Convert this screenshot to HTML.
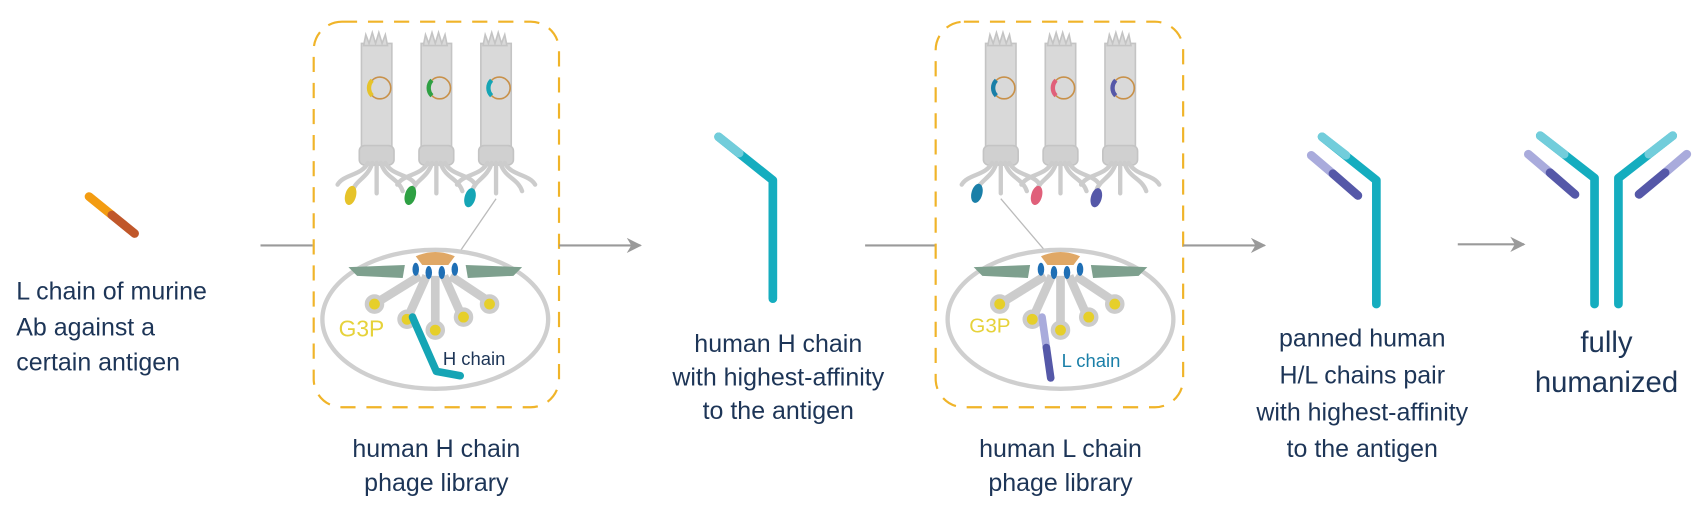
<!DOCTYPE html>
<html><head><meta charset="utf-8"><style>
html,body{margin:0;padding:0;background:#fff;}
svg{display:block;}
text{font-family:"Liberation Sans",Arial,sans-serif;fill:#1d3557;}
</style></head><body>
<svg width="1702" height="518" viewBox="0 0 1568 477" preserveAspectRatio="none" xmlns="http://www.w3.org/2000/svg">
<defs>
<marker id="ah" viewBox="0 0 10 10" refX="9" refY="5" markerWidth="16" markerHeight="14" orient="auto" markerUnits="userSpaceOnUse" >
<path d="M0,0 L10,5 L0,10 L3,5 z" fill="#9a9a9a"/></marker>
<g id="phage">
 <rect x="-14" y="40" width="28" height="98" fill="#d9d9d9" stroke="#c4c4c4" stroke-width="1.5"/>
 <path d="M-12,42 l2,-10 l3,8 l3,-10 l3,10 l3,-10 l3,10 l3,-8 l2,10z" fill="#d9d9d9" stroke="#c4c4c4" stroke-width="1.5"/>
 <rect x="-16" y="134" width="32" height="18" rx="5" fill="#d0d0d0" stroke="#c4c4c4" stroke-width="1.5"/>
 <circle cx="3" cy="81" r="10" fill="none" stroke="#c8914a" stroke-width="1.5"/>
 <g stroke="#cccccc" stroke-width="4" fill="none" stroke-linecap="round">
  <path d="M-8,150 C-14,162 -30,160 -36,170"/>
  <path d="M-4,150 C-8,164 -20,166 -22,176"/>
  <path d="M0,150 L0,178"/>
  <path d="M4,150 C8,164 20,164 24,176"/>
  <path d="M8,150 C14,162 30,160 36,170"/>
 </g>
</g>
<g id="detail">
 <ellipse cx="0" cy="0" rx="104" ry="64" fill="#fff" stroke="#cfcfcf" stroke-width="4"/>
 <path d="M-18,-58 Q0,-66 18,-58 L12,-50 L-12,-50z" fill="#e0a866"/>
 <path d="M-80,-48 L-28,-50 L-30,-38 L-72,-40z" fill="#7ea08e"/>
 <path d="M80,-48 L28,-50 L30,-38 L72,-40z" fill="#7ea08e"/>
 <g stroke="#cccccc" stroke-width="8" fill="none">
  <line x1="-14" y1="-40" x2="-56" y2="-14"/><line x1="-8" y1="-40" x2="-26" y2="0"/>
  <line x1="0" y1="-40" x2="0" y2="8"/><line x1="8" y1="-40" x2="24" y2="-4"/>
  <line x1="14" y1="-40" x2="50" y2="-16"/>
 </g>
 <g fill="#e6cf2a" stroke="#cccccc" stroke-width="4">
  <circle cx="-56" cy="-14" r="7"/><circle cx="-26" cy="0" r="7"/><circle cx="0" cy="10" r="7"/>
  <circle cx="26" cy="-2" r="7"/><circle cx="50" cy="-14" r="7"/>
 </g>
 <g fill="#1f6fb5">
  <ellipse cx="-18" cy="-46" rx="3" ry="6"/><ellipse cx="-6" cy="-43" rx="3" ry="6"/>
  <ellipse cx="6" cy="-43" rx="3" ry="6"/><ellipse cx="18" cy="-46" rx="3" ry="6"/>
 </g>
</g>
</defs>

<!-- murine L chain -->
<line x1="82" y1="181" x2="103" y2="198" stroke="#f39c12" stroke-width="8" stroke-linecap="round"/>
<line x1="103" y1="198" x2="124" y2="215" stroke="#c0572a" stroke-width="8" stroke-linecap="round"/>
<text x="15" y="276" font-size="23">L chain of murine</text>
<text x="15" y="309" font-size="23">Ab against a</text>
<text x="15" y="341" font-size="23">certain antigen</text>

<line x1="240" y1="226" x2="288" y2="226" stroke="#9a9a9a" stroke-width="2"/>
<rect x="289" y="20" width="226" height="355" rx="26" fill="none" stroke="#f0b429" stroke-width="2" stroke-dasharray="14,10"/>
<use href="#phage" x="347" y="0"/>
<use href="#phage" x="402" y="0"/>
<use href="#phage" x="457" y="0"/>
<path d="M342.9,73.9 A10,10 0 0 0 342.9,88.1" fill="none" stroke="#e6c32a" stroke-width="4"/>
<path d="M397.9,73.9 A10,10 0 0 0 397.9,88.1" fill="none" stroke="#2ea043" stroke-width="4"/>
<path d="M452.9,73.9 A10,10 0 0 0 452.9,88.1" fill="none" stroke="#15a5b5" stroke-width="4"/>
<ellipse cx="323" cy="180" rx="5" ry="9" fill="#e6c32a" transform="rotate(15 323 180)"/>
<ellipse cx="378" cy="180" rx="5" ry="9" fill="#2ea043" transform="rotate(15 378 180)"/>
<ellipse cx="433" cy="182" rx="5" ry="9" fill="#15a5b5" transform="rotate(15 433 182)"/>
<line x1="457" y1="183" x2="420" y2="237" stroke="#bbbbbb" stroke-width="1.2"/>
<use href="#detail" x="401" y="294"/>
<text x="312" y="310" font-size="21" style="fill:#e6d23a">G3P</text>
<polyline points="380,292 402,342 424,346" fill="none" stroke="#15a5b5" stroke-width="7" stroke-linecap="round" stroke-linejoin="round"/>
<text x="408" y="336" font-size="17">H chain</text>
<text x="402" y="421" font-size="23" text-anchor="middle">human H chain</text>
<text x="402" y="452" font-size="23" text-anchor="middle">phage library</text>

<line x1="515" y1="226" x2="590" y2="226" stroke="#9a9a9a" stroke-width="2" marker-end="url(#ah)"/>

<!-- H chain -->
<polyline points="662,126 712,166 712,275" fill="none" stroke="#15adbf" stroke-width="8" stroke-linecap="round" stroke-linejoin="round"/>
<line x1="662" y1="126" x2="681" y2="141" stroke="#72cddb" stroke-width="8" stroke-linecap="round"/>
<text x="717" y="324" font-size="23" text-anchor="middle">human H chain</text>
<text x="717" y="355" font-size="23" text-anchor="middle">with highest-affinity</text>
<text x="717" y="386" font-size="23" text-anchor="middle">to the antigen</text>

<line x1="797" y1="226" x2="862" y2="226" stroke="#9a9a9a" stroke-width="2"/>
<rect x="862" y="20" width="228" height="355" rx="26" fill="none" stroke="#f0b429" stroke-width="2" stroke-dasharray="14,10"/>
<use href="#phage" x="922" y="0"/>
<use href="#phage" x="977" y="0"/>
<use href="#phage" x="1032" y="0"/>
<path d="M917.9,73.9 A10,10 0 0 0 917.9,88.1" fill="none" stroke="#1a7fa8" stroke-width="4"/>
<path d="M972.9,73.9 A10,10 0 0 0 972.9,88.1" fill="none" stroke="#e0607a" stroke-width="4"/>
<path d="M1027.9,73.9 A10,10 0 0 0 1027.9,88.1" fill="none" stroke="#5558a8" stroke-width="4"/>
<ellipse cx="900" cy="178" rx="5" ry="9" fill="#1a7fa8" transform="rotate(15 900 178)"/>
<ellipse cx="955" cy="180" rx="5" ry="9" fill="#e0607a" transform="rotate(15 955 180)"/>
<ellipse cx="1010" cy="182" rx="5" ry="9" fill="#5558a8" transform="rotate(15 1010 182)"/>
<line x1="922" y1="183" x2="968" y2="237" stroke="#bbbbbb" stroke-width="1.2"/>
<use href="#detail" x="977" y="294"/>
<text x="893" y="306" font-size="19" style="fill:#e6d23a">G3P</text>
<line x1="960" y1="292" x2="964" y2="320" stroke="#a9abdc" stroke-width="7" stroke-linecap="round"/>
<line x1="964" y1="320" x2="968" y2="348" stroke="#5558a8" stroke-width="7" stroke-linecap="round"/>
<text x="978" y="338" font-size="17" style="fill:#1a7fa8">L chain</text>
<text x="977" y="421" font-size="23" text-anchor="middle">human L chain</text>
<text x="977" y="452" font-size="23" text-anchor="middle">phage library</text>

<line x1="1090" y1="226" x2="1165" y2="226" stroke="#9a9a9a" stroke-width="2" marker-end="url(#ah)"/>

<!-- H/L pair -->
<line x1="1208" y1="143" x2="1228" y2="160" stroke="#a9abdc" stroke-width="8" stroke-linecap="round"/>
<line x1="1228" y1="160" x2="1251" y2="180" stroke="#5558a8" stroke-width="8" stroke-linecap="round"/>
<polyline points="1218,126 1268,166 1268,280" fill="none" stroke="#15adbf" stroke-width="8" stroke-linecap="round" stroke-linejoin="round"/>
<line x1="1218" y1="126" x2="1240" y2="143" stroke="#72cddb" stroke-width="8" stroke-linecap="round"/>
<text x="1255" y="319" font-size="23" text-anchor="middle">panned human</text>
<text x="1255" y="353" font-size="23" text-anchor="middle">H/L chains pair</text>
<text x="1255" y="387" font-size="23" text-anchor="middle">with highest-affinity</text>
<text x="1255" y="421" font-size="23" text-anchor="middle">to the antigen</text>

<line x1="1343" y1="225" x2="1404" y2="225" stroke="#9a9a9a" stroke-width="2" marker-end="url(#ah)"/>

<!-- full antibody -->
<line x1="1408" y1="142" x2="1428" y2="159" stroke="#a9abdc" stroke-width="8" stroke-linecap="round"/>
<line x1="1428" y1="159" x2="1451" y2="179" stroke="#5558a8" stroke-width="8" stroke-linecap="round"/>
<line x1="1554" y1="142" x2="1534" y2="159" stroke="#a9abdc" stroke-width="8" stroke-linecap="round"/>
<line x1="1534" y1="159" x2="1510" y2="179" stroke="#5558a8" stroke-width="8" stroke-linecap="round"/>
<polyline points="1419,125 1469,164 1469,280" fill="none" stroke="#15adbf" stroke-width="8" stroke-linecap="round" stroke-linejoin="round"/>
<line x1="1419" y1="125" x2="1441" y2="142" stroke="#72cddb" stroke-width="8" stroke-linecap="round"/>
<polyline points="1541,125 1491,164 1491,280" fill="none" stroke="#15adbf" stroke-width="8" stroke-linecap="round" stroke-linejoin="round"/>
<line x1="1541" y1="125" x2="1519" y2="142" stroke="#72cddb" stroke-width="8" stroke-linecap="round"/>
<text x="1480" y="324" font-size="27" text-anchor="middle">fully</text>
<text x="1480" y="361" font-size="27" text-anchor="middle">humanized</text>
</svg>
</body></html>
